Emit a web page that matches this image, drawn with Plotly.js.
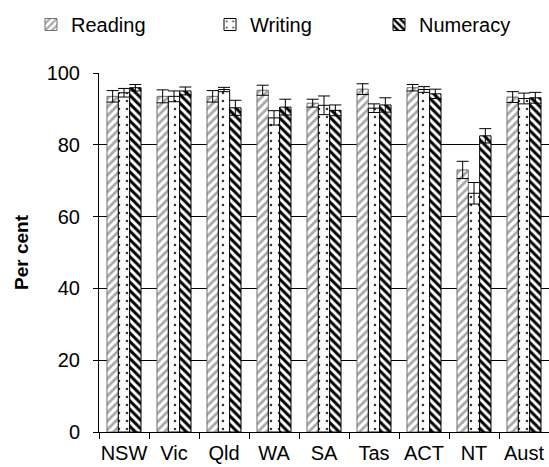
<!DOCTYPE html>
<html>
<head>
<meta charset="utf-8">
<script src="https://cdn.plot.ly/plotly-3.0.1.min.js"></script>
<style>html,body{margin:0;padding:0;background:#fff;}#chart{width:549px;height:467px;}</style>
</head>
<body>
<div id="chart"></div>
<script>
var categories = ["NSW", "Vic", "Qld", "WA", "SA", "Tas", "ACT", "NT", "Aust"];
var reading = [93.5, 93.5, 93.5, 95.2, 91.6, 95.5, 95.9, 73.0, 93.3];
var readingErr = [1.6, 1.8, 1.6, 1.4, 1.1, 1.5, 0.9, 2.4, 1.5];
var writing = [94.5, 93.5, 95.4, 87.5, 91.0, 90.2, 95.4, 66.5, 92.9];
var writingErr = [1.2, 1.5, 0.6, 2.0, 2.6, 1.2, 0.8, 3.0, 1.5];
var numeracy = [95.9, 95.0, 90.3, 90.5, 89.6, 91.1, 94.2, 82.5, 93.1];
var numeracyErr = [0.9, 1.1, 2.1, 2.2, 1.5, 2.0, 1.3, 2.0, 1.5];
var yTicks = [0, 20, 40, 60, 80, 100];

var FONT = "'Liberation Sans', Arial, sans-serif";
var FS = 20;
function errBar(arr) {
  return {type: "data", array: arr, visible: true, color: "#000", thickness: 1, width: 6};
}
var traces = [
  {type: "bar", name: "Reading", legend: "legend", x: categories, y: reading, error_y: errBar(readingErr),
   marker: {color: "#ffffff", line: {color: "#6f6f6f", width: 1},
            pattern: {shape: "/", fgcolor: "#a6a6a6", bgcolor: "#ffffff", size: 6, solidity: 0.45}}},
  {type: "bar", name: "Writing", legend: "legend2", x: categories, y: writing, error_y: errBar(writingErr),
   marker: {color: "#ffffff", line: {color: "#000", width: 1},
            pattern: {shape: ".", fgcolor: "#333", bgcolor: "#ffffff", size: 8, solidity: 0.08}}},
  {type: "bar", name: "Numeracy", legend: "legend3", x: categories, y: numeracy, error_y: errBar(numeracyErr),
   marker: {color: "#ffffff", line: {color: "#000", width: 1},
            pattern: {shape: "\\", fgcolor: "#000", bgcolor: "#ffffff", size: 6, solidity: 0.5}}}
];
function leg(px) {
  return {orientation: "h", xref: "container", yref: "container", x: px / 549, y: 1 - 5 / 467,
          xanchor: "left", yanchor: "top", font: {family: FONT, size: FS, color: "#000"},
          bgcolor: "rgba(0,0,0,0)", itemclick: false};
}
var layout = {
  width: 549, height: 467,
  margin: {l: 99, r: 0, t: 73, b: 35},
  paper_bgcolor: "#fff", plot_bgcolor: "#fff",
  font: {family: FONT, size: FS, color: "#000"},
  barmode: "group", bargap: 0.32, bargroupgap: 0,
  showlegend: true,
  legend: leg(31), legend2: leg(210), legend3: leg(379),
  xaxis: {type: "category", showline: true, linecolor: "#000", linewidth: 1,
          ticks: "outside", tickson: "boundaries", ticklen: 6, tickcolor: "#000", tickangle: 0,
          showgrid: false, tickfont: {family: FONT, size: FS}, ticklabelstandoff: 3, fixedrange: true},
  yaxis: {range: [0, 100], tickvals: yTicks, ticktext: yTicks.map(String),
          showline: true, linecolor: "#000", linewidth: 1, ticks: "outside", ticklen: 5,
          tickcolor: "#000", showgrid: true, gridcolor: "#000", gridwidth: 1, zeroline: false,
          tickfont: {family: FONT, size: FS}, ticklabelstandoff: 9,
          title: {text: "<b>Per cent</b>", font: {family: FONT, size: 19}, standoff: 12},
          fixedrange: true}
};
Plotly.newPlot("chart", traces, layout, {staticPlot: true, displayModeBar: false});
</script>
</body>
</html>
